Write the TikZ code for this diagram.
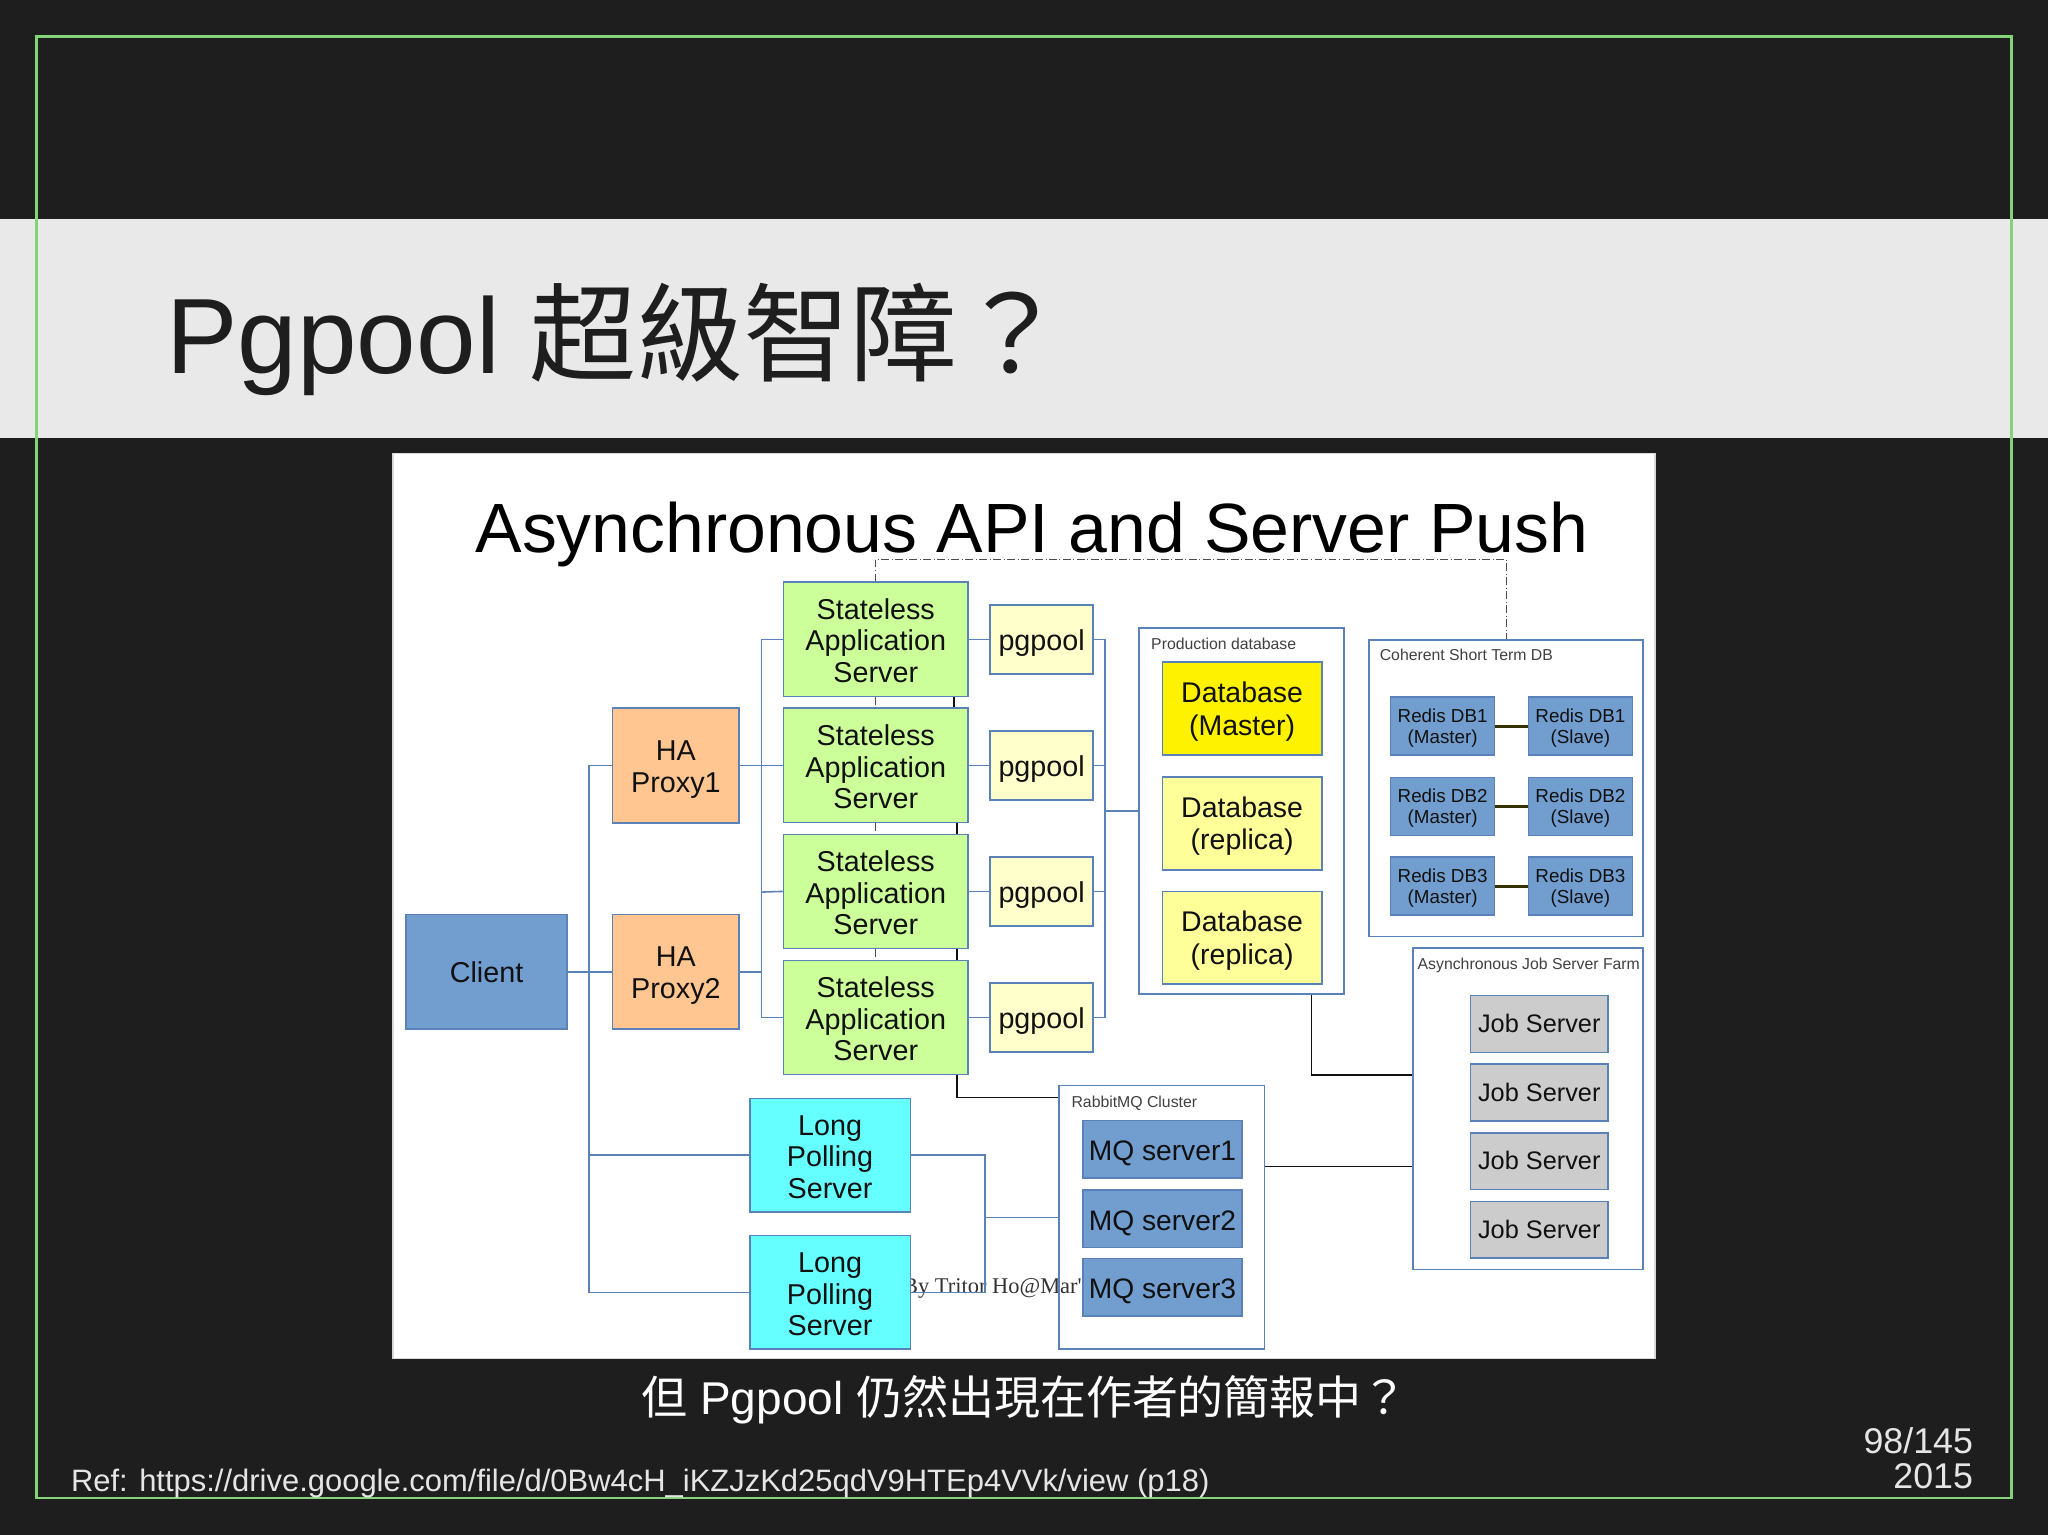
\documentclass[tikz,border=0pt]{standalone}
\usepackage{fontspec}
\setmainfont{Liberation Sans}
\newfontfamily\serifpart{Liberation Serif}
\newfontfamily\cjk{Noto Sans CJK TC}
\usetikzlibrary{positioning}
\definecolor{slidebg}{HTML}{1E1E1E}
\definecolor{bandgray}{HTML}{E9E9E9}
\definecolor{framegreen}{HTML}{86D47A}
\definecolor{linkblue}{HTML}{5B82B8}
\definecolor{inkblack}{HTML}{111111}
\definecolor{serverblue}{HTML}{719DCF}
\definecolor{proxyorange}{HTML}{FFC692}
\definecolor{appgreen}{HTML}{CCFF99}
\definecolor{poolyellow}{HTML}{FFFFCC}
\definecolor{dbyellow}{HTML}{FFFF99}
\definecolor{jobgray}{HTML}{CCCCCC}
\definecolor{pollcyan}{HTML}{66FFFF}
\definecolor{redisolive}{HTML}{333300}
\tikzset{
  box/.style={draw=linkblue,line width=0.6pt,inner sep=0pt,align=center,text=inkblack,font=\fontsize{11}{12.2}\selectfont},
  clientbox/.style={box,fill=serverblue,minimum width=61.5pt,minimum height=44pt},
  proxybox/.style={box,text height=22.8pt,fill=proxyorange,minimum width=48.5pt,minimum height=44pt},
  appbox/.style={box,text height=33.4pt,fill=appgreen,minimum width=70.5pt,minimum height=43.75pt},
  poolbox/.style={box,text height=11pt,fill=poolyellow,minimum width=39.5pt,minimum height=26.5pt},
  dbbox/.style={box,text height=22.5pt,fill=dbyellow,minimum width=61pt,minimum height=35.5pt,font=\fontsize{10.9}{12.5}\selectfont},
  redisbox/.style={box,text height=14.7pt,fill=serverblue,minimum width=39.75pt,minimum height=22.25pt,font=\fontsize{7.2}{8}\selectfont},
  jobbox/.style={box,text depth=0.5pt,fill=jobgray,minimum width=52.5pt,minimum height=21.75pt,font=\fontsize{9.7}{11}\selectfont},
  mqbox/.style={box,text height=10.9pt,fill=serverblue,minimum width=61pt,minimum height=22pt,font=\fontsize{10.8}{12}\selectfont},
  pollbox/.style={box,text height=33.4pt,fill=pollcyan,minimum width=61.5pt,minimum height=43.5pt},
  groupbox/.style={draw=linkblue,line width=0.6pt,inner sep=0pt},
  grouplabel/.style={anchor=base west,inner sep=0pt,text=black!75,font=\fontsize{6.05}{7}\selectfont},
  link/.style={draw=linkblue,line width=0.6pt},
  blacklink/.style={draw=inkblack,line width=0.6pt},
  redislink/.style={draw=redisolive,line width=1pt},
  dashlink/.style={draw=black!70,line width=0.35pt,densely dashdotted}
}
\begin{document}
\begin{tikzpicture}[x=0.5pt,y=-0.5pt]
  \useasboundingbox (0,0) rectangle (1568,1175.2);
  \fill[slidebg] (0,0) rectangle (1568,1175.2);
  \fill[bandgray] (0,168) rectangle (1568,335.5);
  \draw[framegreen,line width=0.9pt] (28,28) rectangle (1540,1147);
  \node[anchor=base west,inner sep=0pt,text=slidebg,font=\fontsize{41}{46}\selectfont] (slidetitle) at (127,286) {Pgpool {\cjk 超級智障？}};
  \node[draw=black!15,fill=white,line width=0.5pt,minimum width=483pt,minimum height=346.5pt,inner sep=0pt] (shot) at (784,693.5) {};
  \node[anchor=base,inner sep=0pt,text=black,font=\fontsize{26.7}{30}\selectfont] (shottitle) at (790,423) {Asynchronous API and Server Push};

  \node[anchor=base west,inner sep=0pt,text=black!80,font=\fontsize{8.6}{10}\serifpart] (credit) at (691,990) {By Tritor Ho@Mar'};

  \node[clientbox] (client) at (372.5,744) {Client};
  \node[proxybox] (proxy1) at (517.5,586) {HA\\Proxy1};
  \node[proxybox] (proxy2) at (517.5,744) {HA\\Proxy2};
  \node[appbox] (app1) at (670.5,489.5) {Stateless\\Application\\Server};
  \node[appbox] (app2) at (670.5,586) {Stateless\\Application\\Server};
  \node[appbox] (app3) at (670.5,682.5) {Stateless\\Application\\Server};
  \node[appbox] (app4) at (670.5,779) {Stateless\\Application\\Server};
  \node[poolbox] (pool1) at (797.5,489.5) {pgpool};
  \node[poolbox] (pool2) at (797.5,586) {pgpool};
  \node[poolbox] (pool3) at (797.5,682.5) {pgpool};
  \node[poolbox] (pool4) at (797.5,779) {pgpool};
  \node[pollbox] (poll1) at (635.5,884.5) {Long\\Polling\\Server};
  \node[pollbox] (poll2) at (635.5,989.5) {Long\\Polling\\Server};

  \node[groupbox,minimum width=78.5pt,minimum height=140pt] (proddb) at (950.5,621) {};
  \node[grouplabel] (proddblabel) at (881,497) {Production database};
  \node[dbbox,fill=yellow] (dbmaster) at (951,542.5) {Database\\(Master)};
  \node[dbbox] (dbreplica1) at (951,630.5) {Database\\(replica)};
  \node[dbbox] (dbreplica2) at (951,718) {Database\\(replica)};

  \node[groupbox,minimum width=105pt,minimum height=113.5pt] (shortdb) at (1153,603.5) {};
  \node[grouplabel] (shortdblabel) at (1056,506) {Coherent Short Term DB};
  \node[redisbox] (redis1m) at (1104.5,556) {Redis DB1\\(Master)};
  \node[redisbox] (redis1s) at (1210,556) {Redis DB1\\(Slave)};
  \node[redisbox] (redis2m) at (1104.5,617.5) {Redis DB2\\(Master)};
  \node[redisbox] (redis2s) at (1210,617.5) {Redis DB2\\(Slave)};
  \node[redisbox] (redis3m) at (1104.5,678.5) {Redis DB3\\(Master)};
  \node[redisbox] (redis3s) at (1210,678.5) {Redis DB3\\(Slave)};

  \node[groupbox,minimum width=88pt,minimum height=123pt] (jobfarm) at (1170,849) {};
  \node[grouplabel] (jobfarmlabel) at (1085,742) {Asynchronous Job Server Farm};
  \node[jobbox] (job1) at (1178.5,784) {Job Server};
  \node[jobbox] (job2) at (1178.5,836.5) {Job Server};
  \node[jobbox] (job3) at (1178.5,889) {Job Server};
  \node[jobbox] (job4) at (1178.5,941.5) {Job Server};

  \node[groupbox,minimum width=78.75pt,minimum height=101pt] (rabbit) at (889.5,932) {};
  \node[grouplabel] (rabbitlabel) at (820,848) {RabbitMQ Cluster};
  \node[mqbox] (mq1) at (890,880) {MQ server1};
  \node[mqbox] (mq2) at (890,933) {MQ server2};
  \node[mqbox] (mq3) at (890,985.5) {MQ server3};

  \coordinate (busclient) at (451,744);
  \coordinate (busproxy) at (583,683);
  \coordinate (buspool) at (846,621);
  \coordinate (buspoll) at (754,932);
  \coordinate (dashtop) at (1153,428);

  \draw[link] (client.east) -- (proxy2.west);
  \draw[link] (proxy1.west) -| (busclient) |- (poll2.west);
  \draw[link] (busclient |- poll1.west) -- (poll1.west);
  \draw[link] (proxy1.east) -- (app2.west);
  \draw[link] (proxy2.east) -- (busproxy |- proxy2.east);
  \draw[link] (app1.west) -| (busproxy) |- (app4.west);
  \draw[link] (busproxy) -- (app3.west);
  \draw[link] (app1.east) -- (pool1.west);
  \draw[link] (app2.east) -- (pool2.west);
  \draw[link] (app3.east) -- (pool3.west);
  \draw[link] (app4.east) -- (pool4.west);
  \draw[link] (pool1.east) -| (buspool) |- (pool4.east);
  \draw[link] (pool2.east) -- (buspool |- pool2.east);
  \draw[link] (pool3.east) -- (buspool |- pool3.east);
  \draw[link] (buspool) -- (proddb.west);
  \draw[link] (poll1.east) -| (buspoll) |- (poll2.east);
  \draw[link] (buspoll) -- (rabbit.west);

  \draw[blacklink] ([xshift=30pt]app1.south) -- ([xshift=30pt]app2.north);
  \draw[blacklink] ([xshift=31pt]app2.south) -- ([xshift=31pt]app3.north);
  \draw[blacklink] ([xshift=31pt]app3.south) -- ([xshift=31pt]app4.north);
  \draw[blacklink] ([xshift=31pt]app4.south) |- ([yshift=-5pt]rabbit.north west);
  \draw[blacklink] ([xshift=26.75pt]proddb.south) |- ([yshift=13pt]jobfarm.west);
  \draw[blacklink] ([yshift=19.5pt]rabbit.east) -- ([yshift=-22pt]jobfarm.west);

  \draw[redislink] (redis1m.east) -- (redis1s.west);
  \draw[redislink] (redis2m.east) -- (redis2s.west);
  \draw[redislink] (redis3m.east) -- (redis3s.west);

  \draw[dashlink] (app1.north) |- (dashtop) -- (shortdb.north);
  \draw[dashlink] (app1.south) -- (app2.north);
  \draw[dashlink] (app2.south) -- (app3.north);
  \draw[dashlink] (app3.south) -- (app4.north);

  \node[anchor=base,inner sep=0pt,text=white,font=\fontsize{17.6}{20}\selectfont] (caption) at (784.5,1083) {{\cjk 但} Pgpool {\cjk 仍然出現在作者的簡報中？}};
  \node[anchor=base west,inner sep=0pt,text=white!90!black,font=\fontsize{11.85}{14}\selectfont] (reference) at (54,1142) {Ref: https://drive.google.com/file/d/0Bw4cH\_iKZJzKd25qdV9HTEp4VVk/view (p18)};
  \node[anchor=base east,inner sep=0pt,align=right,text=white!90!black,font=\fontsize{13.7}{13.5}\selectfont] (pagemark) at (1511,1140) {98/145\\2015};
\end{tikzpicture}
\end{document}
